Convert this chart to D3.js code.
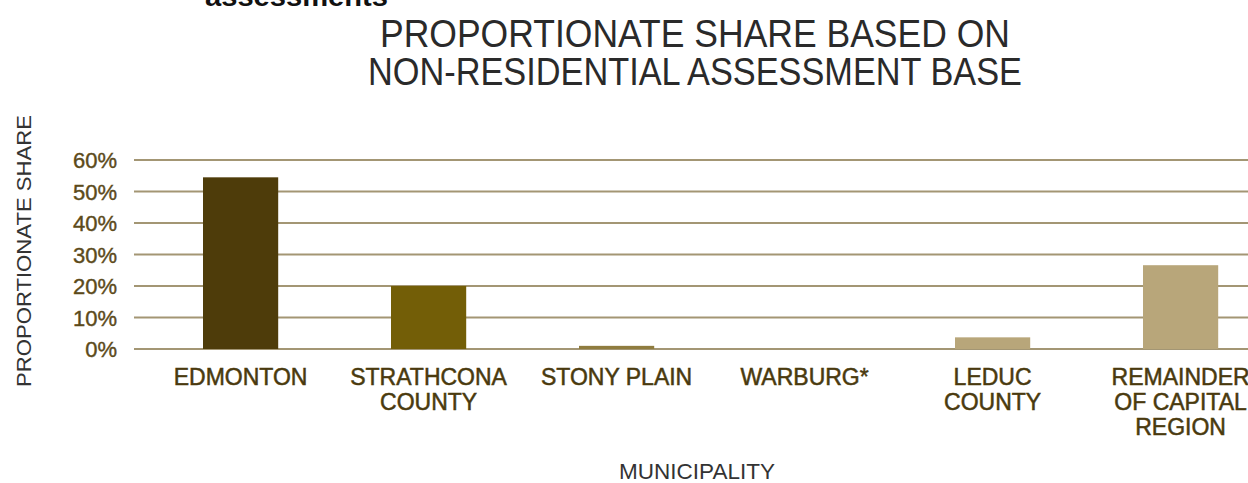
<!DOCTYPE html>
<html><head><meta charset="utf-8">
<script src="https://cdn.jsdelivr.net/npm/d3@7"></script>
<style>body{margin:0;background:#fff}svg{display:block}</style>
</head><body>
<script>
const categories = [["EDMONTON"],["STRATHCONA","COUNTY"],["STONY PLAIN"],["WARBURG*"],["LEDUC","COUNTY"],["REMAINDER","OF CAPITAL","REGION"]];
const values = [54.5, 20, 1, 0, 3.7, 26.6];
const barColors = ["#4e3c0a","#735e07","#8f7c3f","#a89660","#b8a67a","#b8a67a"];
const yTicks = [0,10,20,30,40,50,60];
const titleLines = ["PROPORTIONATE SHARE BASED ON","NON-RESIDENTIAL ASSESSMENT BASE"];

const W=1248,H=483;
const svg=d3.select("body").append("svg").attr("width",W).attr("height",H);
const font="'Liberation Sans', Arial, sans-serif";

const y=d3.scaleLinear().domain([0,60]).range([349,160]);
const x=d3.scaleBand().domain(categories.map((d,i)=>i)).range([146.6,1274.6]).paddingInner(0.6).paddingOuter(0.3);

// cut-off heading
svg.append("text").attr("x",205).attr("y",6).attr("font-family",font).attr("font-weight","bold")
  .attr("font-size",27).attr("fill","#111").attr("textLength",183).attr("lengthAdjust","spacingAndGlyphs").text("assessments");

// title
const tl=[630,654];
titleLines.forEach((t,i)=>{
  svg.append("text").attr("x",695).attr("y",47+i*38).attr("text-anchor","middle")
    .attr("font-family",font).attr("font-size",39).attr("fill","#2a2a2a")
    .attr("textLength",tl[i]).attr("lengthAdjust","spacingAndGlyphs").text(t);
});

// gridlines
const grid=svg.append("g");
grid.selectAll("line").data(yTicks).join("line")
  .attr("x1",134).attr("x2",W).attr("y1",d=>y(d)).attr("y2",d=>y(d))
  .attr("stroke","#a39674").attr("stroke-width",1.8);

// y axis labels
const yAxis=d3.axisLeft(y).tickValues(yTicks).tickFormat(d=>d+"%").tickSize(0).tickPadding(0);
const ga=svg.append("g").attr("transform","translate(117,0)").call(yAxis);
ga.select(".domain").remove();
ga.selectAll("text").attr("font-family",font).attr("font-size",22).attr("fill","#5c4a1a")
  .attr("stroke","#5c4a1a").attr("stroke-width",0.4).attr("dy","0.36em");

// bars
svg.append("g").selectAll("rect").data(values).join("rect")
  .attr("x",(d,i)=>x(i)).attr("width",x.bandwidth())
  .attr("y",d=>y(d)).attr("height",d=>y(0)-y(d))
  .attr("fill",(d,i)=>barColors[i]);

// category labels
const cl=svg.append("g");
categories.forEach((lines,i)=>{
  const t=cl.append("text").attr("x",x(i)+x.bandwidth()/2).attr("y",385).attr("text-anchor","middle")
    .attr("font-family",font).attr("font-size",23).attr("fill","#4a3a0e")
    .attr("stroke","#4a3a0e").attr("stroke-width",0.5);
  lines.forEach((l,j)=>t.append("tspan").attr("x",x(i)+x.bandwidth()/2).attr("dy",j?25:0).text(l));
});

// axis titles
svg.append("text").attr("transform","translate(31,251) rotate(-90)").attr("text-anchor","middle")
  .attr("font-family",font).attr("font-size",21).attr("fill","#333")
  .attr("textLength",272).attr("lengthAdjust","spacingAndGlyphs").text("PROPORTIONATE SHARE");
svg.append("text").attr("x",697).attr("y",479).attr("text-anchor","middle")
  .attr("font-family",font).attr("font-size",22).attr("fill","#333")
  .attr("textLength",156).attr("lengthAdjust","spacingAndGlyphs").text("MUNICIPALITY");
</script>
</body></html>
